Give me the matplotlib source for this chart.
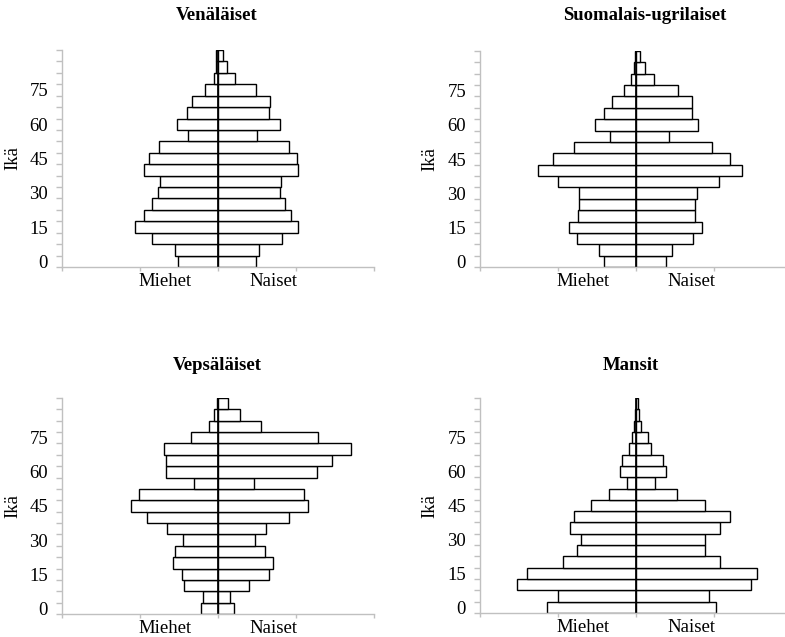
import numpy as np
import matplotlib
matplotlib.use("Agg")
import matplotlib.pyplot as plt

plt.rcParams['font.family'] = ['Liberation Serif', 'DejaVu Serif']

# Age groups (5-year classes, 0-4 ... 90+), labelled every third class
n_groups = 19
age_tick_pos = [0, 3, 6, 9, 12, 15]
age_tick_labels = ['0', '15', '30', '45', '60', '75']
sex_labels = ['Miehet', 'Naiset']
sex_label_pos = [-0.68, 0.71]

titles = ['Venäläiset', 'Suomalais-ugrilaiset', 'Vepsäläiset', 'Mansit']

ven_m = [0.51, 0.55, 0.84, 1.06, 0.95, 0.85, 0.77, 0.74, 0.95, 0.88,
         0.76, 0.38, 0.53, 0.40, 0.33, 0.17, 0.05, 0.02, 0.02]
ven_f = [0.49, 0.53, 0.82, 1.03, 0.94, 0.86, 0.79, 0.81, 1.03, 1.01,
         0.91, 0.50, 0.80, 0.66, 0.67, 0.49, 0.22, 0.11, 0.06]

sug_m = [0.41, 0.47, 0.76, 0.86, 0.74, 0.73, 0.73, 1.00, 1.26, 1.06,
         0.80, 0.33, 0.53, 0.41, 0.31, 0.16, 0.06, 0.03, 0.01]
sug_f = [0.39, 0.46, 0.73, 0.85, 0.75, 0.75, 0.78, 1.06, 1.36, 1.21,
         0.97, 0.42, 0.79, 0.72, 0.72, 0.54, 0.23, 0.12, 0.05]

vep_m = [0.22, 0.19, 0.43, 0.46, 0.58, 0.55, 0.45, 0.65, 0.91, 1.11,
         1.01, 0.31, 0.67, 0.67, 0.69, 0.35, 0.11, 0.05, 0.01]
vep_f = [0.20, 0.15, 0.40, 0.66, 0.71, 0.60, 0.47, 0.62, 0.91, 1.16,
         1.10, 0.46, 1.27, 1.46, 1.71, 1.28, 0.55, 0.28, 0.13]

man_m = [1.14, 1.00, 1.52, 1.40, 0.94, 0.76, 0.71, 0.84, 0.79, 0.58,
         0.34, 0.12, 0.21, 0.18, 0.09, 0.05, 0.03, 0.01, 0.005]
man_f = [1.02, 0.93, 1.47, 1.55, 1.08, 0.89, 0.88, 1.08, 1.21, 0.88,
         0.52, 0.24, 0.39, 0.34, 0.19, 0.16, 0.06, 0.04, 0.02]

series = [(ven_m, ven_f), (sug_m, sug_f), (vep_m, vep_f), (man_m, man_f)]

W, H = 785, 637
fig = plt.figure(figsize=(W / 100, H / 100), dpi=100)

# axes boxes in pixels: (left, top, bottom)
boxes = [(62, 50, 267), (480, 51, 267), (62, 398, 614), (480, 398, 613)]
ax_width_px = 312
title_pos = [(217, 16), (645, 16), (217, 365), (631, 365)]
ylabel_x = [13, 430, 13, 430]

gray = '#c0c0c0'
fs = 13.5

for i, (title, (m, f)) in enumerate(zip(titles, series)):
    left, top, bottom = boxes[i]
    ax = fig.add_axes([left / W, 1 - bottom / H, ax_width_px / W, (bottom - top) / H])
    y = np.arange(n_groups)
    ax.barh(y, -np.array(m), height=1.0, color='white', edgecolor='black', linewidth=1.0)
    ax.barh(y, np.array(f), height=1.0, color='white', edgecolor='black', linewidth=1.0)
    ax.plot([0, 0], [-0.5, n_groups - 0.5], color='black', linewidth=1.2)
    ax.set_xlim(-2, 2)
    ax.set_ylim(-0.5, n_groups - 0.5)
    for s in ['top', 'right']:
        ax.spines[s].set_visible(False)
    for s in ['left', 'bottom']:
        ax.spines[s].set_color(gray)
        ax.spines[s].set_linewidth(1.0)
    ax.set_yticks(age_tick_pos)
    ax.set_yticklabels(age_tick_labels, fontsize=fs)
    ax.set_yticks(np.arange(-0.5, n_groups, 1.0), minor=True)
    ax.tick_params(axis='y', which='major', length=0, pad=10)
    ax.tick_params(axis='y', which='minor', length=4.5, color=gray, width=1.0)
    ax.set_xticks([-2, -1, 0, 1, 2])
    ax.set_xticklabels([''] * 5)
    ax.tick_params(axis='x', which='major', length=3, color=gray, width=1.0)
    ax.set_xticks(sex_label_pos, minor=True)
    ax.set_xticklabels(sex_labels, minor=True, fontsize=fs)
    ax.tick_params(axis='x', which='minor', length=0, pad=4)
    tx, ty = title_pos[i]
    fig.text(tx / W, 1 - ty / H, title, ha='center', va='center',
             fontsize=13.5, fontweight='bold')
    fig.text(ylabel_x[i] / W, 1 - ((top + bottom) / 2) / H, 'Ikä', rotation=90,
             ha='center', va='center', fontsize=fs)

fig.savefig('out.png', dpi=100)
